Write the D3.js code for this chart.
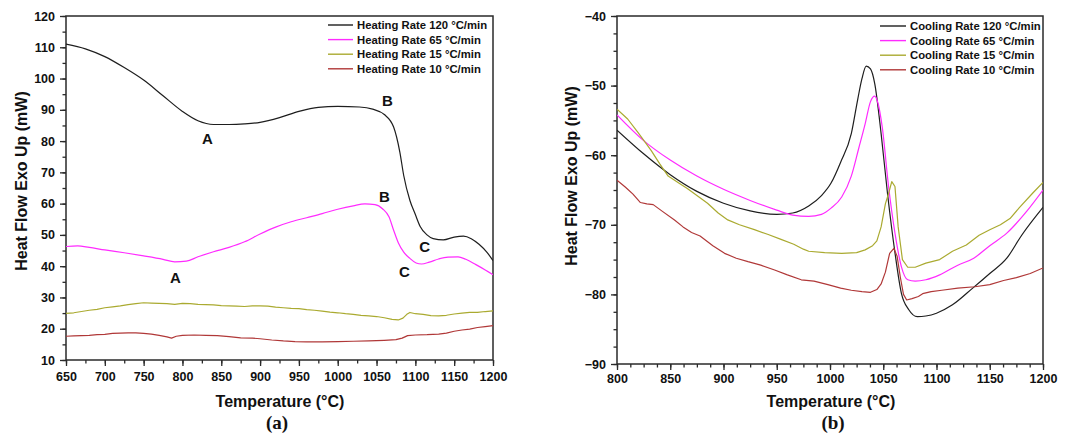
<!DOCTYPE html>
<html><head><meta charset="utf-8">
<script src="https://cdn.jsdelivr.net/npm/d3@7/dist/d3.min.js"></script>
<style>
html,body{margin:0;padding:0;background:#fff;}
svg{display:block;}
text{font-family:"Liberation Sans",Arial,sans-serif;}
</style></head>
<body><svg id="chart" width="1067" height="437"></svg>
<script>
// ---------- DATA ----------
const heatLabels = ["Heating Rate 120 \u00B0C/min","Heating Rate 65 \u00B0C/min","Heating Rate 15 \u00B0C/min","Heating Rate 10 \u00B0C/min"];
const coolLabels = ["Cooling Rate 120 \u00B0C/min","Cooling Rate 65 \u00B0C/min","Cooling Rate 15 \u00B0C/min","Cooling Rate 10 \u00B0C/min"];
const seriesColors = ["#1e1e1e","#ff2bff","#aaaa30","#b03838"];

const heatXTicks = [650,700,750,800,850,900,950,1000,1050,1100,1150,1200];
const heatYTicks = [10,20,30,40,50,60,70,80,90,100,110,120];
const coolXTicks = [800,850,900,950,1000,1050,1100,1150,1200];
const coolYTicks = [-90,-80,-70,-60,-50,-40];

const heat120 = [[650,111],[675,109.5],[700,107],[725,103.5],[750,99.5],[775,94.5],[800,89.5],[820,86.5],[840,85.3],[860,85.3],[880,85.5],[900,86],[925,87.5],[950,89.5],[975,90.8],[1000,91.1],[1028,90.9],[1045,90.2],[1060,88.5],[1072,84.5],[1080,76.5],[1085,69],[1093,61],[1100,56.5],[1106,52.8],[1115,50],[1123,48.8],[1136,48.4],[1150,49.3],[1162,49.6],[1172,48.8],[1182,47],[1192,44.5],[1200,41.8]];
const heat65 = [[650,46.3],[665,46.5],[680,46],[700,45.2],[725,44.3],[750,43.3],[775,42.2],[790,41.4],[805,41.6],[820,43],[840,44.6],[860,46],[880,47.8],[900,50.3],[920,52.5],[940,54.2],[960,55.5],[980,56.8],[1000,58.2],[1020,59.3],[1035,59.9],[1048,59.7],[1058,58.3],[1066,55.8],[1072,51.5],[1078,47.5],[1085,44.5],[1093,42.5],[1101,41],[1108,40.7],[1118,41.3],[1130,42.3],[1142,42.9],[1155,43],[1165,42.2],[1178,40.5],[1190,38.8],[1200,37.3]];
const heat15 = [[650,24.9],[660,25.1],[670,25.5],[680,25.9],[690,26.2],[700,26.7],[710,27],[720,27.3],[730,27.7],[740,28],[750,28.3],[760,28.2],[770,28.1],[780,28],[790,27.8],[800,28.1],[810,28],[820,27.8],[830,27.7],[840,27.6],[850,27.4],[860,27.3],[870,27.2],[880,27.1],[890,27.3],[900,27.3],[910,27.2],[920,26.9],[930,26.7],[940,26.5],[950,26.4],[960,26.1],[970,25.9],[980,25.6],[990,25.3],[1000,25.1],[1010,24.8],[1020,24.6],[1030,24.3],[1040,24.1],[1050,23.9],[1060,23.5],[1070,23],[1078,22.8],[1084,23.4],[1089,24.6],[1093,25.2],[1100,24.8],[1110,24.6],[1120,24.2],[1130,24.1],[1140,24.3],[1150,24.7],[1160,25],[1170,25.2],[1180,25.2],[1190,25.5],[1200,25.7]];
const heat10 = [[650,17.6],[660,17.7],[670,17.8],[680,17.9],[690,18.1],[700,18.2],[710,18.5],[720,18.6],[730,18.7],[740,18.7],[750,18.5],[760,18.3],[770,17.9],[780,17.4],[786,17],[792,17.6],[800,17.9],[815,18],[830,17.9],[845,17.8],[860,17.5],[875,17.1],[890,17],[900,16.8],[915,16.4],[930,16.1],[945,15.9],[960,15.8],[980,15.8],[1000,15.9],[1020,16],[1040,16.1],[1060,16.3],[1075,16.5],[1083,17],[1090,17.8],[1100,18],[1115,18.1],[1130,18.3],[1140,18.6],[1150,19.2],[1160,19.6],[1170,19.9],[1180,20.4],[1190,20.7],[1200,21]];

const cool120 = [[800,-56.4],[825,-59.8],[850,-62.8],[875,-65.2],[900,-66.9],[925,-68],[950,-68.5],[965,-68.3],[980,-67.3],[992,-65.8],[1001,-64],[1010,-61],[1020,-56.9],[1026,-52],[1030,-49],[1034,-47.2],[1038,-47.6],[1042,-49.7],[1048,-56.9],[1054,-65.5],[1061,-74],[1067,-79.8],[1074,-82.2],[1082,-83.2],[1090,-83.1],[1100,-82.7],[1115,-81.5],[1134,-79.1],[1150,-77],[1166,-74.8],[1180,-71.5],[1200,-67.5]];
const cool65 = [[800,-54.2],[825,-57.9],[850,-60.7],[875,-63],[900,-64.9],[925,-66.5],[950,-67.9],[965,-68.6],[980,-68.8],[992,-68.5],[1001,-67.6],[1011,-66],[1020,-63],[1027,-59],[1033,-55.5],[1038,-52.3],[1042,-51.5],[1045,-52.5],[1049,-55.9],[1055,-64.5],[1061,-71.2],[1067,-76],[1073,-77.9],[1080,-78.1],[1090,-77.9],[1103,-77.2],[1120,-75.8],[1135,-74.8],[1150,-73],[1166,-71.2],[1185,-68],[1200,-65]];
const cool15 = [[800,-53.4],[810,-54.8],[820,-56.8],[832,-59.3],[840,-61.2],[848,-63],[858,-64],[866,-64.8],[876,-65.9],[885,-66.9],[895,-68.3],[904,-69.3],[915,-70],[929,-70.7],[942,-71.4],[954,-72.1],[966,-72.8],[975,-73.5],[980,-73.8],[995,-74],[1011,-74.1],[1025,-74],[1033,-73.6],[1040,-73],[1044,-72.3],[1048,-70.3],[1052,-67],[1055,-65.5],[1058,-63.8],[1061,-64.5],[1064,-70.3],[1068,-75],[1073,-76.1],[1080,-76.1],[1090,-75.5],[1103,-75],[1115,-73.8],[1128,-72.9],[1140,-71.5],[1150,-70.7],[1160,-70],[1169,-69.1],[1178,-67.5],[1190,-65.5],[1200,-63.9]];
const cool10 = [[800,-63.6],[808,-64.6],[815,-65.6],[822,-66.8],[828,-67],[834,-67.1],[842,-68],[854,-69.3],[862,-70.3],[870,-71.1],[878,-71.6],[890,-73],[901,-74.1],[912,-74.8],[923,-75.3],[935,-75.8],[948,-76.5],[960,-77.2],[973,-77.9],[985,-78.1],[998,-78.6],[1010,-79.1],[1020,-79.4],[1030,-79.6],[1038,-79.7],[1044,-79.3],[1048,-78.5],[1052,-76.8],[1056,-74.1],[1060,-73.4],[1063,-74.5],[1066,-77.5],[1069,-80],[1072,-80.8],[1077,-80.6],[1083,-80.3],[1087,-79.9],[1095,-79.6],[1105,-79.4],[1120,-79.1],[1136,-78.9],[1150,-78.6],[1163,-78],[1175,-77.6],[1188,-77],[1200,-76.2]];

// annotation letters: [label, temperature, value]
const heatNotes = [["A",832,80.8],["B",1064,92.8],["C",1112,46.2],["A",791,36.3],["B",1060,62.2],["C",1086,38.2]];

// ---------- DRAW ----------
const svg = d3.select("#chart");
const axisColor = "#2a2a2a";

function panel(cfg){
  const g = svg.append("g");
  const x = d3.scaleLinear().domain(cfg.xDomain).range([cfg.left, cfg.right]);
  const y = d3.scaleLinear().domain(cfg.yDomain).range([cfg.bottom, cfg.top]);

  // minor ticks
  const xMinor = d3.range(cfg.xDomain[0], cfg.xDomain[1] + 0.001, cfg.xMinor);
  const yMinor = d3.range(cfg.yDomain[0], cfg.yDomain[1] + 0.001, cfg.yMinor);
  const xAxisMinor = d3.axisBottom(x).tickValues(xMinor).tickSize(3.5).tickFormat("");
  const yAxisMinor = d3.axisLeft(y).tickValues(yMinor).tickSize(3.5).tickFormat("");
  g.append("g").attr("transform",`translate(0,${cfg.bottom})`).call(xAxisMinor);
  g.append("g").attr("transform",`translate(${cfg.left},0)`).call(yAxisMinor);

  const xAxis = d3.axisBottom(x).tickValues(cfg.xTicks).tickSize(6).tickPadding(cfg.xPad).tickFormat(d3.format("d"));
  const yAxis = d3.axisLeft(y).tickValues(cfg.yTicks).tickSize(6).tickPadding(5).tickFormat(d3.format("d"));
  g.append("g").attr("class","xa").attr("transform",`translate(0,${cfg.bottom})`).call(xAxis);
  g.append("g").attr("class","ya").attr("transform",`translate(${cfg.left},0)`).call(yAxis);

  g.selectAll(".tick line").attr("stroke",axisColor).attr("stroke-width",1.3);
  g.selectAll(".domain").remove();
  g.selectAll(".tick text").attr("fill","#111").style("font-size","12.5px").style("font-weight","bold")
    .style("font-family","'Liberation Sans',Arial,sans-serif");

  // frame
  g.append("rect").attr("x",cfg.left).attr("y",cfg.top)
    .attr("width",cfg.right-cfg.left).attr("height",cfg.bottom-cfg.top)
    .attr("fill","none").attr("stroke",axisColor).attr("stroke-width",1.5);

  // lines
  const clipId = "clip"+cfg.id;
  svg.append("clipPath").attr("id",clipId).append("rect")
    .attr("x",cfg.left).attr("y",cfg.top).attr("width",cfg.right-cfg.left).attr("height",cfg.bottom-cfg.top);
  const lineG = g.append("g").attr("clip-path",`url(#${clipId})`);
  cfg.series.forEach((s,i)=>{
    const line = d3.line().x(d=>x(d[0])).y(d=>y(d[1]))
      .curve(s.smooth ? d3.curveMonotoneX : d3.curveLinear);
    lineG.append("path").datum(s.data).attr("d",line)
      .attr("fill","none").attr("stroke",seriesColors[i]).attr("stroke-width",1.2)
      .attr("stroke-linejoin","round");
  });

  // legend
  cfg.labels.forEach((lab,i)=>{
    const yy = cfg.legTop + i*14.6;
    g.append("line").attr("x1",cfg.legX1).attr("x2",cfg.legX2).attr("y1",yy).attr("y2",yy)
      .attr("stroke",seriesColors[i]).attr("stroke-width",1.4);
    g.append("text").attr("x",cfg.legX2+4).attr("y",yy).attr("dy","0.35em")
      .style("font-size","11.3px").style("font-weight","bold").attr("fill","#111").text(lab);
  });

  // notes
  (cfg.notes||[]).forEach(n=>{
    g.append("text").attr("x",x(n[1])).attr("y",y(n[2])).attr("dy","0.36em")
      .attr("text-anchor","middle").style("font-size","15px").style("font-weight","bold")
      .attr("fill","#111").text(n[0]);
  });

  // axis titles
  g.append("text").attr("x",cfg.xTitleX).attr("y",407).attr("text-anchor","middle")
    .style("font-size","16px").style("font-weight","bold").attr("fill","#111").text("Temperature (\u00B0C)");
  g.append("text").attr("transform",`translate(${cfg.yTitleX},${cfg.yTitleY}) rotate(-90)`)
    .attr("text-anchor","middle").attr("dy","0.35em")
    .style("font-size","16px").style("font-weight","bold").attr("fill","#111").text("Heat Flow Exo Up (mW)");
  g.append("text").attr("x",cfg.capX).attr("y",429).attr("text-anchor","middle")
    .style("font-family","'Liberation Serif','Times New Roman',serif")
    .style("font-size","19px").style("font-weight","bold").attr("fill","#111").text(cfg.caption);
}

panel({id:"a", left:66, right:493, top:16, bottom:360,
  xDomain:[650,1200], yDomain:[10,120], xTicks:heatXTicks, yTicks:heatYTicks,
  xMinor:25, yMinor:5, xPad:6,
  series:[{data:heat120,smooth:true},{data:heat65,smooth:true},{data:heat15,smooth:false},{data:heat10,smooth:false}],
  labels:heatLabels, legX1:328, legX2:353, legTop:25,
  notes:heatNotes,
  xTitleX:280, yTitleX:21, yTitleY:181, capX:277, caption:"(a)"});

panel({id:"b", left:617, right:1043, top:16, bottom:364,
  xDomain:[800,1200], yDomain:[-90,-40], xTicks:coolXTicks, yTicks:coolYTicks,
  xMinor:12.5, yMinor:2.5, xPad:4,
  series:[{data:cool120,smooth:true},{data:cool65,smooth:true},{data:cool15,smooth:false},{data:cool10,smooth:false}],
  labels:coolLabels, legX1:880, legX2:906, legTop:26,
  notes:[],
  xTitleX:831, yTitleX:571, yTitleY:176, capX:833, caption:"(b)"});
</script>
</body></html>
